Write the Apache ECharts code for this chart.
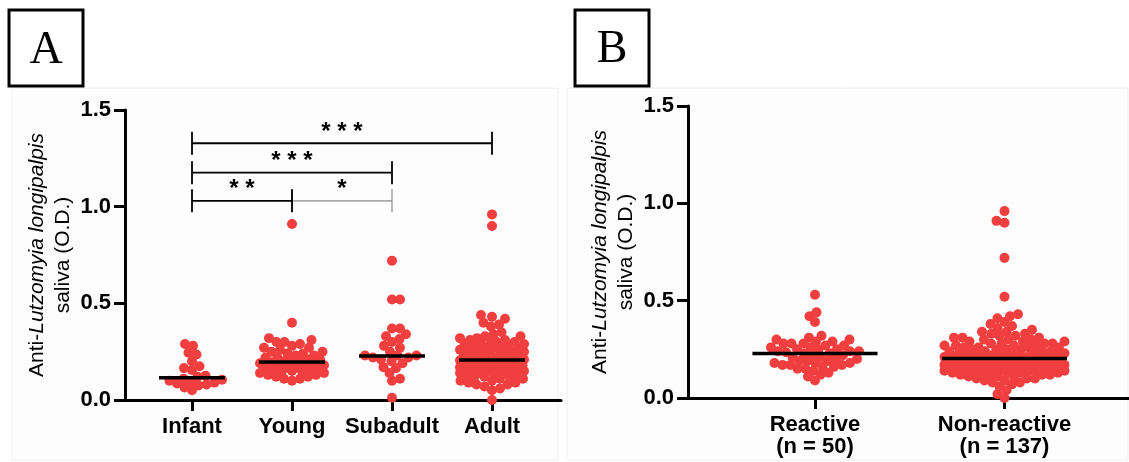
<!DOCTYPE html>
<html>
<head>
<meta charset="utf-8">
<script src="https://cdn.jsdelivr.net/npm/echarts@6/dist/echarts.min.js"></script>
<style>
  html, body { margin: 0; padding: 0; background: #fff; overflow: hidden; }
  #chart { width: 1129px; height: 462px; }
</style>
</head>
<body>
<div id="chart"></div>
<script>
// ---- data ----
const ageGroups = ['Infant', 'Young', 'Subadult', 'Adult']
const infantValues = [0.29, 0.28, 0.245, 0.235, 0.20, 0.175, 0.165, 0.155, 0.125, 0.12,
  0.11, 0.105, 0.10, 0.095, 0.09, 0.085, 0.08, 0.075, 0.065, 0.05]
const youngValues = [0.91, 0.40, 0.32, 0.31, 0.30, 0.30, 0.29, 0.28, 0.27, 0.27, 0.26, 0.25,
  0.25, 0.24, 0.24, 0.23, 0.23, 0.22, 0.22, 0.21, 0.21, 0.20, 0.20, 0.20, 0.195, 0.19, 0.19,
  0.18, 0.18, 0.18, 0.17, 0.17, 0.17, 0.16, 0.16, 0.16, 0.15, 0.15, 0.15, 0.14, 0.14, 0.13,
  0.13, 0.12, 0.12, 0.11, 0.11, 0.10]
const subadultValues = [0.72, 0.52, 0.52, 0.37, 0.37, 0.34, 0.33, 0.315, 0.30, 0.28, 0.27,
  0.25, 0.23, 0.23, 0.23, 0.22, 0.22, 0.21, 0.20, 0.19, 0.17, 0.165, 0.14, 0.11, 0.10, 0.012]
const adultValues = [0.96, 0.90, 0.44, 0.43, 0.42, 0.40, 0.39, 0.38,
  0.35, 0.34, 0.33, 0.33, 0.32, 0.32, 0.31, 0.31, 0.30, 0.30, 0.30, 0.29, 0.29, 0.29, 0.28,
  0.28, 0.28, 0.27, 0.27, 0.27, 0.26, 0.26, 0.26, 0.25, 0.25, 0.25, 0.24, 0.24, 0.24, 0.23,
  0.23, 0.23, 0.22, 0.22, 0.22, 0.21, 0.21, 0.21, 0.21,
  0.205, 0.20, 0.20, 0.20, 0.20, 0.19, 0.19, 0.19, 0.19, 0.18, 0.18, 0.18, 0.18, 0.17, 0.17,
  0.17, 0.17, 0.16, 0.16, 0.16, 0.16, 0.15, 0.15, 0.15, 0.15, 0.14, 0.14, 0.14, 0.13, 0.13,
  0.13, 0.12, 0.12, 0.12, 0.11, 0.11, 0.10, 0.10, 0.09, 0.09, 0.08, 0.08, 0.07, 0.06, 0.05, 0.0]
const ageMedians = [0.115, 0.197, 0.228, 0.207]

// significance brackets (panel A)
const bracketFrom = [1, 0, 0, 0]
const bracketTo = [2, 1, 2, 3]
const bracketY = [1.03, 1.03, 1.176, 1.328]
const bracketLabel = ['*', '* *', '* * *', '* * *']

const reactGroups = ['Reactive\n(n = 50)', 'Non-reactive\n(n = 137)']
const reactiveValues = [0.53, 0.44, 0.42, 0.39, 0.32, 0.31, 0.30, 0.30, 0.29, 0.29, 0.28,
  0.28, 0.28, 0.27, 0.27, 0.26, 0.26, 0.25, 0.25, 0.25, 0.24, 0.24, 0.24, 0.235, 0.23,
  0.228, 0.22, 0.22, 0.21, 0.21, 0.20, 0.20, 0.19, 0.19, 0.19, 0.18, 0.18, 0.18, 0.17, 0.17,
  0.17, 0.16, 0.16, 0.15, 0.15, 0.14, 0.13, 0.12, 0.11, 0.09]
const nonReactiveValues = [0.96, 0.91, 0.90, 0.72, 0.52, 0.43, 0.42, 0.41, 0.39, 0.38, 0.37,
  0.36, 0.35, 0.34, 0.34, 0.33, 0.33, 0.32, 0.32, 0.31, 0.31, 0.31, 0.30, 0.30, 0.30, 0.29,
  0.29, 0.29, 0.28, 0.28, 0.28, 0.28, 0.27, 0.27, 0.27, 0.27, 0.26, 0.26, 0.26, 0.26, 0.25,
  0.25, 0.25, 0.25, 0.24, 0.24, 0.24, 0.24, 0.23, 0.23, 0.23, 0.23, 0.22, 0.22, 0.22, 0.22,
  0.22, 0.21, 0.21, 0.21, 0.21, 0.21, 0.21, 0.205, 0.205, 0.205, 0.205, 0.205,
  0.20, 0.20, 0.20, 0.20, 0.20, 0.19, 0.19, 0.19, 0.19, 0.19, 0.19, 0.18, 0.18, 0.18, 0.18,
  0.18, 0.18, 0.18, 0.17, 0.17, 0.17, 0.17, 0.17, 0.17, 0.17, 0.16, 0.16, 0.16, 0.16, 0.16,
  0.16, 0.16, 0.15, 0.15, 0.15, 0.15, 0.15, 0.15, 0.15, 0.14, 0.14, 0.14, 0.14, 0.14, 0.14,
  0.13, 0.13, 0.13, 0.13, 0.13, 0.12, 0.12, 0.12, 0.12, 0.11, 0.11, 0.11, 0.10, 0.10, 0.10,
  0.09, 0.09, 0.08, 0.08, 0.07, 0.06, 0.04, 0.02, 0.0]
const reactMedians = [0.229, 0.203]

// ---- look ----
const FONT = '"Liberation Sans", Arial, sans-serif'
const RED = '#f13f3f'
const DOT = 10

const chart = echarts.init(document.getElementById('chart'))

const yAxisCfg = (gridIndex) => ({
  type: 'value',
  gridIndex,
  min: 0,
  max: 1.5,
  interval: 0.5,
  axisLine: { show: true, onZero: false, lineStyle: { color: '#000', width: 3 } },
  axisTick: { show: true, length: 11, lineStyle: { color: '#000', width: 3 } },
  axisLabel: {
    color: '#000', fontSize: 22, fontWeight: 'bold', fontFamily: FONT, margin: 14,
    formatter: (v) => v.toFixed(1)
  },
  splitLine: { show: false },
  name: '{n|Anti-}{i|Lutzomyia longipalpis}\n{n|saliva (O.D.)}',
  nameLocation: 'middle',
  nameRotate: 90,
  nameGap: 49,
  nameTextStyle: {
    lineHeight: 26,
    rich: {
      n: { fontSize: 21, fontFamily: FONT, color: '#000', lineHeight: 26 },
      i: { fontSize: 21, fontFamily: FONT, color: '#000', fontStyle: 'italic', lineHeight: 26 }
    }
  }
})

const xAxisCfg = (gridIndex, min, max, names) => {
  const ticks = names.map((_, i) => i)
  return {
    type: 'value',
    gridIndex,
    min,
    max,
    axisLine: { show: true, lineStyle: { color: '#000', width: 3 } },
    axisTick: { show: true, customValues: ticks, length: 11, lineStyle: { color: '#000', width: 3 } },
    axisLabel: {
      customValues: ticks,
      color: '#000', fontSize: 22, fontWeight: 'bold', fontFamily: FONT, margin: 16,
      lineHeight: 22,
      formatter: (v) => names[Math.round(v)]
    },
    splitLine: { show: false }
  }
}

chart.setOption({
  animation: false,
  backgroundColor: '#fff',
  grid: [
    { left: 125, top: 110, width: 436, height: 290 },
    { left: 688, top: 106, width: 441, height: 292 }
  ],
  xAxis: [
    xAxisCfg(0, -0.67, 3.69, ageGroups),
    xAxisCfg(1, -0.67, 1.657, reactGroups)
  ],
  yAxis: [yAxisCfg(0), yAxisCfg(1)],
  graphic: [
    { type: 'rect', z: -10, shape: { x: 12, y: 88, width: 546, height: 372 },
      style: { fill: '#fdfdfd', stroke: '#f0f0f0', lineWidth: 1 } },
    { type: 'rect', z: -10, shape: { x: 567, y: 88, width: 561, height: 372 },
      style: { fill: '#fdfdfd', stroke: '#f0f0f0', lineWidth: 1 } },
    { type: 'rect', z: 100, shape: { x: 9, y: 10, width: 74, height: 76 },
      style: { fill: '#fff', stroke: '#000', lineWidth: 3 } },
    { type: 'text', z: 101, style: { text: 'A', x: 46, y: 51, fill: '#000',
      font: '46px "Liberation Serif", "Times New Roman", serif', align: 'center', verticalAlign: 'middle' } },
    { type: 'rect', z: 100, shape: { x: 575, y: 10, width: 74, height: 76 },
      style: { fill: '#fff', stroke: '#000', lineWidth: 3 } },
    { type: 'text', z: 101, style: { text: 'B', x: 612, y: 50, fill: '#000',
      font: '46px "Liberation Serif", "Times New Roman", serif', align: 'center', verticalAlign: 'middle' } }
  ],
  series: []
})

// beeswarm: each point goes to the free spot nearest the centre line,
// within maxHalf px; if the column is full it takes the least crowded spot
function swarm(values, cat, pxX, pxY, maxHalf, gap) {
  const sorted = values.slice().sort((a, b) => a - b)
  const placed = []
  const out = []
  sorted.forEach((v, idx) => {
    const py = v * pxY
    const near = placed.filter((p) => Math.abs(p[1] - py) < gap)
    const sign = idx % 2 === 0 ? 1 : -1
    let best = 0
    let bestScore = -1
    for (let s = 0; s <= maxHalf; s += 0.5) {
      let found = false
      for (const dir of [sign, -sign]) {
        const x = s * dir
        let minD = Infinity
        near.forEach((p) => {
          const d = Math.hypot(p[0] - x, p[1] - py)
          if (d < minD) minD = d
        })
        if (minD >= gap) { best = x; found = true; break }
        if (minD > bestScore + 0.01) { bestScore = minD; best = x }
        if (s === 0) break
      }
      if (found) break
    }
    placed.push([best, py])
    out.push([cat + best / pxX, v])
  })
  return out
}

const scaleOf = (idx) => {
  const pxX = chart.convertToPixel({ xAxisIndex: idx }, 1) - chart.convertToPixel({ xAxisIndex: idx }, 0)
  const pxY = chart.convertToPixel({ yAxisIndex: idx }, 0) - chart.convertToPixel({ yAxisIndex: idx }, 1)
  return { pxX, pxY }
}

const sA = scaleOf(0)
const sB = scaleOf(1)

const ageData = [infantValues, youngValues, subadultValues, adultValues]
  .flatMap((vals, i) => swarm(vals, i, sA.pxX, sA.pxY, 32, 8))
const reactData = [reactiveValues, nonReactiveValues]
  .flatMap((vals, i) => swarm(vals, i, sB.pxX, sB.pxY, 60, 8))

const medianSeries = (idx, medians) => ({
  type: 'custom',
  xAxisIndex: idx,
  yAxisIndex: idx,
  z: 5,
  silent: true,
  data: medians.map((m, i) => [i, m]),
  renderItem: (params, api) => {
    const a = api.coord([api.value(0) - 0.33, api.value(1)])
    const b = api.coord([api.value(0) + 0.33, api.value(1)])
    return {
      type: 'line',
      shape: { x1: a[0], y1: a[1], x2: b[0], y2: b[1] },
      style: { stroke: '#000', lineWidth: 3.5 }
    }
  }
})

const dotSeries = (idx, data) => ({
  type: 'scatter',
  xAxisIndex: idx,
  yAxisIndex: idx,
  symbolSize: DOT,
  itemStyle: { color: RED, opacity: 1 },
  z: 3,
  data
})

chart.setOption({
  series: [
    dotSeries(0, ageData),
    medianSeries(0, ageMedians),
    {
      type: 'custom',
      xAxisIndex: 0,
      yAxisIndex: 0,
      z: 6,
      silent: true,
      data: bracketY.map((y, i) => [bracketFrom[i], bracketTo[i], y]),
      renderItem: (params, api) => {
        const p1 = api.coord([api.value(0), api.value(2)])
        const p2 = api.coord([api.value(1), api.value(2)])
        const thin = params.dataIndex === 0
        const style = { stroke: thin ? '#8c8c8c' : '#000', lineWidth: thin ? 1.2 : 1.8 }
        const h = 11.5
        return {
          type: 'group',
          children: [
            { type: 'line', shape: { x1: p1[0], y1: p1[1], x2: p2[0], y2: p2[1] }, style },
            { type: 'line', shape: { x1: p1[0], y1: p1[1] - h, x2: p1[0], y2: p1[1] + h }, style },
            { type: 'line', shape: { x1: p2[0], y1: p2[1] - h, x2: p2[0], y2: p2[1] + h }, style },
            {
              type: 'text',
              style: {
                text: bracketLabel[params.dataIndex],
                x: (p1[0] + p2[0]) / 2,
                y: p1[1] - 11,
                fill: '#000',
                font: 'bold 24px ' + FONT,
                align: 'center',
                verticalAlign: 'middle'
              }
            }
          ]
        }
      }
    },
    dotSeries(1, reactData),
    medianSeries(1, reactMedians)
  ]
})
</script>
</body>
</html>
